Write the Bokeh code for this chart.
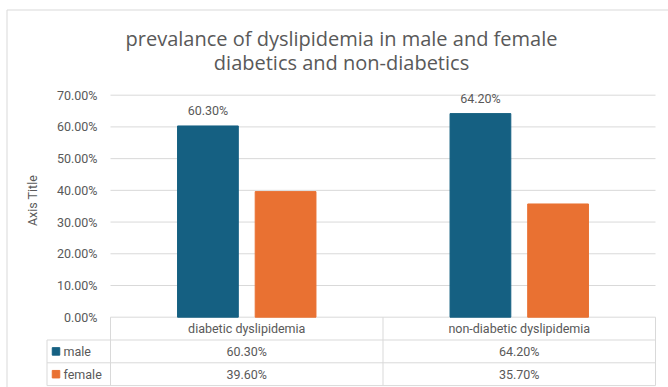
from bokeh.plotting import figure
from bokeh.models import Range1d, Label
from bokeh.core.properties import value
from bokeh.embed import file_html
from bokeh.resources import INLINE
import math

# ---- data ----
categories = ["diabetic dyslipidemia", "non-diabetic dyslipidemia"]
series = ["male", "female"]
male = [60.3, 64.2]
female = [39.6, 35.7]
yticks = [0, 10, 20, 30, 40, 50, 60, 70]
ytick_labels = [f"{t:.2f}%" for t in yticks]
title_lines = ["prevalance of dyslipidemia in male and female", "diabetics and non-diabetics"]
axis_title = "Axis Title"

colors = {"male": "#156082", "female": "#E97132"}
TXT = "#595959"
GRID = "#D9D9D9"
FONT = "Roboto"
TFONT = "Open Sans"

W, H = 668, 387
# layout mapping (pixel -> data) so that plot area spans x 110..655, y 0% at 316.7px
PX_PER_CAT = 272.5
X0_PX = 110.0
PX_PER_PCT = 3.1714
Y0_PX = 316.7


def dx(px):
    return (px - X0_PX) / PX_PER_CAT


def dy(py):
    return (Y0_PX - py) / PX_PER_PCT


p = figure(width=W, height=H, output_backend="svg", toolbar_location=None,
           x_range=Range1d(dx(0), dx(W)), y_range=Range1d(dy(H), dy(0)),
           min_border=0)
p.axis.visible = False
p.grid.visible = False
p.outline_line_color = None
p.background_fill_color = "white"
p.border_fill_color = "white"

# chart border (left and top edges visible)
p.segment(x0=[dx(6.5), dx(6.5)], x1=[dx(6.5), dx(W)], y0=[dy(9.5), dy(9.5)], y1=[dy(H), dy(9.5)],
          line_color=GRID, line_width=1)

ncat = len(categories)
# gridlines
p.segment(x0=[0] * len(yticks), x1=[ncat] * len(yticks), y0=yticks, y1=yticks,
          line_color=GRID, line_width=1)
# tick labels
p.text(x=[dx(97)] * len(yticks), y=yticks, text=ytick_labels, text_align="right",
       text_baseline="middle", text_color=TXT, text_font=value(FONT), text_font_size="12.5px")

# bars
off = 0.1425
bw = 0.223
mx = [i + 0.5 - off for i in range(ncat)]
fx = [i + 0.5 + off for i in range(ncat)]
p.vbar(x=mx, top=male, bottom=0, width=bw, fill_color=colors["male"], line_color=colors["male"])
p.vbar(x=fx, top=female, bottom=0, width=bw, fill_color=colors["female"], line_color=colors["female"])
# data labels (male)
p.text(x=mx, y=male, text=[f"{v:.2f}%" for v in male], text_align="center", text_baseline="bottom",
       y_offset=-8, text_color=TXT, text_font=value(FONT), text_font_size="12.5px")

# data table
h = -dy(339.5)   # row height in data units
L = -dx(46.5)    # legend column width
rows = [-h, -2 * h, -3 * h]
p.segment(x0=[-L] * 3, x1=[ncat] * 3, y0=rows, y1=rows, line_color=GRID)
vx = [0] + [i + 1 for i in range(ncat)]
p.segment(x0=vx, x1=vx, y0=[0] * len(vx), y1=[-3 * h] * len(vx), line_color=GRID)
p.segment(x0=[-L], x1=[-L], y0=[-h], y1=[-3 * h], line_color=GRID)
# header
p.text(x=[i + 0.5 for i in range(ncat)], y=[-h / 2] * ncat, text=categories, text_align="center",
       text_baseline="middle", text_color=TXT, text_font=value(FONT), text_font_size="12.5px")
# rows
for r, (name, vals) in enumerate([("male", male), ("female", female)]):
    yc = -h * (r + 1.5)
    p.scatter(x=[dx(55.5)], y=[yc], marker="square", size=7.5, fill_color=colors[name], line_color=colors[name])
    p.text(x=[dx(63)], y=[yc], text=[name], text_align="left", text_baseline="middle",
           text_color=TXT, text_font=value(FONT), text_font_size="12.5px")
    p.text(x=[i + 0.5 for i in range(ncat)], y=[yc] * ncat, text=[f"{v:.2f}%" for v in vals],
           text_align="center", text_baseline="middle", text_color=TXT, text_font=value(FONT),
           text_font_size="12.5px")

# titles
for i, line in enumerate(title_lines):
    p.add_layout(Label(x=dx(341), y=dy(38 + 24 * i), text=line, text_align="center",
                       text_baseline="middle", text_color=TXT, text_font=TFONT, text_font_size="20px"))
p.add_layout(Label(x=dx(32), y=dy(200), text=axis_title, angle=math.pi / 2, text_align="center",
                   text_baseline="middle", text_color=TXT, text_font=FONT, text_font_size="12.5px"))

open("out.html", "w").write(file_html(p, INLINE))
